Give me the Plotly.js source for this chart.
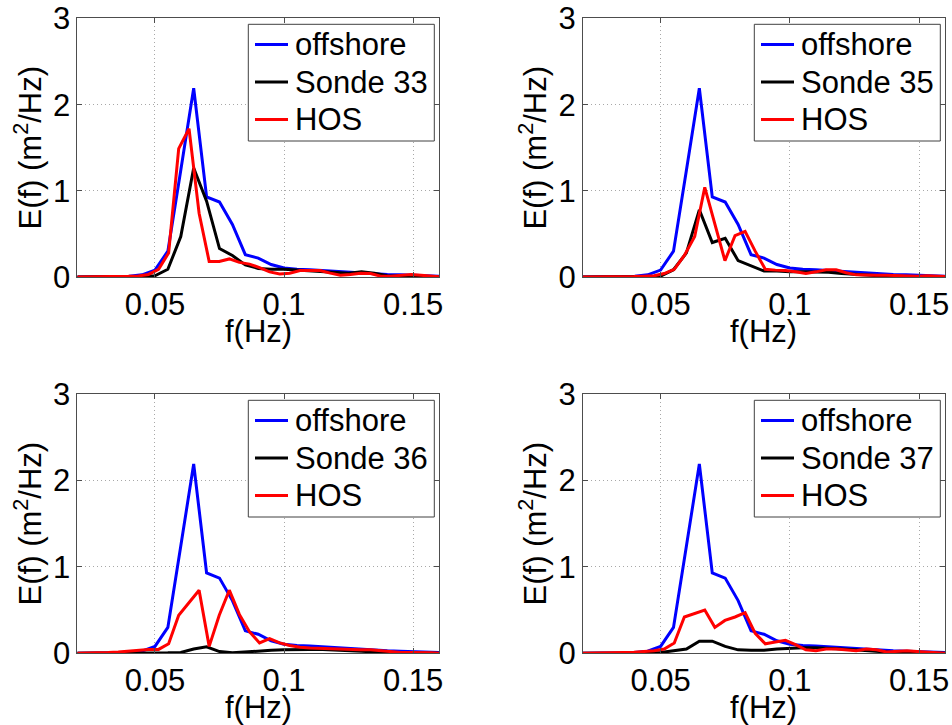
<!DOCTYPE html>
<html>
<head>
<meta charset="utf-8">
<script src="https://cdn.plot.ly/plotly-3.0.1.min.js"></script>
<style>html,body{margin:0;padding:0;background:#fff;}#chart{width:952px;height:725px;}</style>
</head>
<body>
<div id="chart"></div>
<script>
// Frequency grids (Hz)
const offshore_f = [0.015,0.02,0.025,0.03,0.035,0.04,0.045,0.05,0.055,0.06,0.065,0.07,0.075,0.08,0.085,0.09,0.095,0.1,0.105,0.11,0.115,0.12,0.125,0.13,0.135,0.14,0.145,0.15,0.155,0.16];
const sonde_f = offshore_f;
const hos_f = [0.0163,0.0202,0.0241,0.028,0.0319,0.0358,0.0397,0.0436,0.0475,0.0514,0.0553,0.0592,0.0632,0.0671,0.071,0.0749,0.0788,0.0827,0.0866,0.0905,0.0944,0.0983,0.1022,0.1062,0.1101,0.114,0.1179,0.1218,0.1257,0.1296,0.1335,0.1374,0.1414,0.1453,0.1492,0.1531,0.157,0.1609];

// Spectral densities E(f) (m^2/Hz)
const offshore_E = [0,0,0,0.002,0.005,0.01,0.025,0.08,0.3,1.24,2.19,0.93,0.87,0.61,0.26,0.22,0.145,0.105,0.09,0.085,0.075,0.065,0.055,0.045,0.04,0.03,0.025,0.02,0.015,0.01];

const sonde33_E = [0,0,0,0,0,0.002,0.005,0.015,0.09,0.47,1.265,0.88,0.33,0.25,0.14,0.1,0.09,0.09,0.08,0.075,0.065,0.05,0.045,0.06,0.045,0.015,0.01,0.01,0.005,0];
const sonde35_E = [0,0,0,0,0,0.002,0.005,0.01,0.085,0.28,0.78,0.40,0.45,0.19,0.13,0.07,0.07,0.06,0.06,0.06,0.055,0.04,0.03,0.02,0.01,0.005,0.003,0.003,0.002,0];
const sonde36_E = [0,0,0,0,0,0,0.002,0.003,0.005,0.01,0.05,0.075,0.02,0.005,0.015,0.03,0.035,0.04,0.045,0.045,0.045,0.04,0.035,0.025,0.015,0.01,0.005,0.003,0.002,0];
const sonde37_E = [0,0,0,0,0,0,0.002,0.01,0.03,0.05,0.14,0.14,0.08,0.04,0.035,0.035,0.05,0.06,0.065,0.065,0.06,0.05,0.04,0.03,0.02,0.01,0.01,0.005,0.003,0];

const hos33_E = [0,0,0,0,0.002,0.004,0.008,0.012,0.03,0.09,0.28,1.49,1.72,0.74,0.18,0.18,0.21,0.17,0.15,0.11,0.06,0.035,0.045,0.075,0.075,0.075,0.045,0.02,0.03,0.045,0.04,0.01,0.01,0.02,0.03,0.02,0.01,0];
const hos35_E = [0,0,0,0,0.002,0.003,0.005,0.01,0.015,0.04,0.09,0.25,0.47,1.04,0.6,0.19,0.48,0.53,0.3,0.09,0.08,0.075,0.06,0.04,0.06,0.085,0.085,0.05,0.025,0.02,0.02,0.02,0.015,0.01,0.01,0.015,0.01,0.005];
const hos36_E = [0,0,0,0.003,0.008,0.015,0.025,0.04,0.045,0.045,0.11,0.44,0.59,0.73,0.08,0.44,0.73,0.45,0.25,0.12,0.17,0.12,0.09,0.07,0.06,0.055,0.05,0.046,0.045,0.04,0.04,0.03,0.02,0.01,0.01,0.01,0.005,0];
const hos37_E = [0,0,0,0.002,0.005,0.008,0.012,0.02,0.03,0.05,0.12,0.42,0.46,0.50,0.30,0.38,0.42,0.47,0.23,0.11,0.13,0.15,0.1,0.04,0.03,0.05,0.05,0.04,0.03,0.05,0.04,0.015,0.02,0.03,0.02,0.01,0.005,0];

const sondeNames = ["Sonde 33","Sonde 35","Sonde 36","Sonde 37"];
const sondeData = [sonde33_E, sonde35_E, sonde36_E, sonde37_E];
const hosData = [hos33_E, hos35_E, hos36_E, hos37_E];
const xTickVals = [0.05, 0.1, 0.15];
const xTickText = ["0.05", "0.1", "0.15"];
const yTickVals = [0, 1, 2, 3];
const xTitle = "f(Hz)";
const yTitle = "E(f) (m<sup>2</sup>/Hz)";

const FONT = "Liberation Sans, Arial, Helvetica, sans-serif";
const FS = 31;
const W = 952, H = 725;
const traces = [];
const shapes = [];
const annotations = [];
const layout = {
  width: W, height: H,
  margin: {l:0, r:0, t:0, b:0},
  paper_bgcolor: "#fff", plot_bgcolor: "#fff",
  font: {family: FONT, size: FS, color: "#000"},
  showlegend: false
};

const xDomains = [[0.0814,0.4611],[0.6124,0.9926],[0.0814,0.4611],[0.6124,0.9926]];
const yDomains = [[0.6179,0.9745],[0.6179,0.9745],[0.0989,0.4566],[0.0989,0.4566]];
// legend box placement, in pixels (left, top) of each panel's legend
const legLeft = [248.3, 754.3, 248.3, 754.3];
const legTop = [24.3, 24.3, 400.3, 400.3];
// x-title vertical centre, pixels from top
const xTitleY = [331, 331, 707, 707];
const colors = ["#0000ff", "#000000", "#ff0000"];

for (let i = 0; i < 4; i++) {
  const sfx = i === 0 ? "" : String(i + 1);
  const xa = "x" + sfx, ya = "y" + sfx;
  const names = ["offshore", sondeNames[i], "HOS"];
  traces.push({x: offshore_f, y: offshore_E, xaxis: xa, yaxis: ya, mode: "lines", name: names[0],
    line: {color: colors[0], width: 3}});
  traces.push({x: sonde_f, y: sondeData[i], xaxis: xa, yaxis: ya, mode: "lines", name: names[1],
    line: {color: colors[1], width: 3}});
  traces.push({x: hos_f, y: hosData[i], xaxis: xa, yaxis: ya, mode: "lines", name: names[2],
    line: {color: colors[2], width: 3}});

  layout["xaxis" + sfx] = {
    domain: xDomains[i], anchor: ya, range: [0.02, 0.16],
    tickmode: "array", tickvals: xTickVals, ticktext: xTickText,
    ticks: "inside", ticklen: 5, tickcolor: "#4d4d4d", tickwidth: 1,
    showline: true, linecolor: "#4d4d4d", linewidth: 1, mirror: "ticks",
    showgrid: true, gridcolor: "#a8a8a8", griddash: "1px,3px", gridwidth: 1,
    zeroline: false, tickfont: {size: FS, family: FONT, color: "#000"},
    automargin: false
  };
  layout["yaxis" + sfx] = {
    domain: yDomains[i], anchor: xa, range: [0, 3],
    tickmode: "array", tickvals: yTickVals,
    ticks: "inside", ticklen: 5, tickcolor: "#4d4d4d", tickwidth: 1,
    showline: true, linecolor: "#4d4d4d", linewidth: 1, mirror: "ticks",
    showgrid: true, gridcolor: "#a8a8a8", griddash: "1px,3px", gridwidth: 1,
    zeroline: false, tickfont: {size: FS, family: FONT, color: "#000"},
    title: {text: yTitle, font: {size: FS, family: FONT, color: "#000"}, standoff: 2},
    automargin: false
  };

  // x-axis title placed as in the reference
  annotations.push({xref: "paper", yref: "paper",
    x: (xDomains[i][0] + xDomains[i][1]) / 2, y: 1 - xTitleY[i] / H,
    xanchor: "center", yanchor: "middle", showarrow: false, text: xTitle,
    font: {size: FS, family: FONT, color: "#000"}});

  // legend box (MATLAB style)
  const L = legLeft[i], T = legTop[i];
  shapes.push({type: "rect", xref: "paper", yref: "paper",
    x0: L / W, x1: (L + 186) / W, y0: 1 - T / H, y1: 1 - (T + 116.7) / H,
    line: {color: "#404040", width: 1}, fillcolor: "#ffffff", layer: "above"});
  for (let j = 0; j < 3; j++) {
    const yy = 1 - (T + 20.3 + j * 37.5) / H;
    shapes.push({type: "line", xref: "paper", yref: "paper",
      x0: (L + 6.7) / W, x1: (L + 39.7) / W, y0: yy, y1: yy,
      line: {color: colors[j], width: 3}, layer: "above"});
    annotations.push({xref: "paper", yref: "paper", x: (L + 44.5) / W, y: yy,
      xanchor: "left", yanchor: "middle", showarrow: false, text: names[j],
      font: {size: FS, family: FONT, color: "#000"}});
  }
}
layout.shapes = shapes;
layout.annotations = annotations;

Plotly.newPlot("chart", traces, layout, {staticPlot: true, displayModeBar: false});
</script>
</body>
</html>
